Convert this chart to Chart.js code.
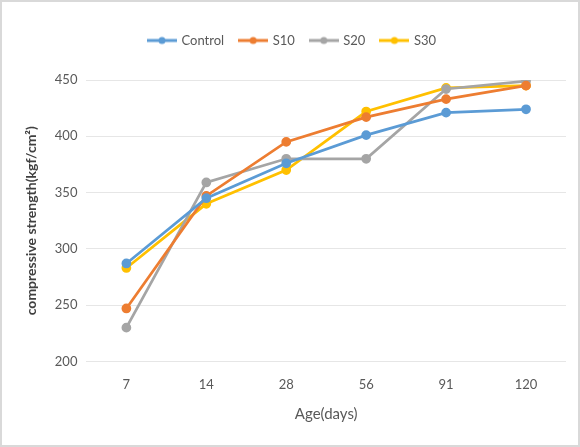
<!DOCTYPE html>
<html>
<head>
<meta charset="utf-8">
<script src="https://cdn.jsdelivr.net/npm/chart.js@4"></script>
<style>
  html, body { margin: 0; padding: 0; background: #fff; }
  #wrap { position: relative; width: 576px; height: 443px; border: 2px solid #d9d9d9; }
</style>
</head>
<body>
<div id="wrap"><canvas id="c" width="576" height="443"></canvas></div>
<script>
const ages = ['7', '14', '28', '56', '91', '120'];
const control = [287, 345, 376, 401, 421, 424];
const s10 = [247, 347, 395, 417, 433, 445];
const s20 = [230, 359, 380, 380, 442, 449];
const s30 = [283, 340, 370, 422, 443, 445];
const yTicks = [200, 250, 300, 350, 400, 450];

const FONT = 'Lato, "Open Sans", sans-serif';

// little line+dot swatch for the legend, like Excel
function swatch(color) {
  const cv = document.createElement('canvas');
  cv.width = 30; cv.height = 10;
  const g = cv.getContext('2d');
  g.strokeStyle = color; g.lineWidth = 3;
  g.beginPath(); g.moveTo(0, 5); g.lineTo(30, 5); g.stroke();
  g.fillStyle = color;
  g.beginPath(); g.arc(15, 5, 3.5, 0, Math.PI * 2); g.fill();
  return cv;
}

function series(label, data, color) {
  return {
    label, data,
    borderColor: color,
    backgroundColor: color,
    borderWidth: 2.75,
    pointRadius: 3.5,
    pointHoverRadius: 3.5,
    tension: 0
  };
}

new Chart(document.getElementById('c'), {
  type: 'line',
  data: {
    labels: ages,
    datasets: [
      series('Control', control, '#5B9BD5'),
      series('S10', s10, '#ED7D31'),
      series('S20', s20, '#A5A5A5'),
      series('S30', s30, '#FFC000')
    ]
  },
  options: {
    responsive: false,
    animation: false,
    layout: { padding: { left: 17, right: 12, top: 16, bottom: 18 } },
    plugins: {
      legend: {
        position: 'top',
        labels: {
          usePointStyle: true,
          pointStyleWidth: 26,
          font: { family: FONT, size: 13 },
          color: '#595959',
          boxWidth: 30,
          padding: 16,
          generateLabels(chart) {
            return chart.data.datasets.map((d, i) => ({
              text: d.label,
              pointStyle: swatch(d.borderColor),
              fillStyle: d.borderColor,
              strokeStyle: d.borderColor,
              lineWidth: 0,
              fontColor: '#595959',
              datasetIndex: i
            }));
          }
        }
      },
      tooltip: { enabled: false }
    },
    scales: {
      x: {
        offset: true,
        grid: { display: false, offset: true },
        border: { display: false },
        ticks: { font: { family: FONT, size: 13 }, color: '#595959', padding: 8 },
        title: { display: true, text: 'Age(days)', font: { family: FONT, size: 15 }, color: '#595959', padding: { top: 4 } }
      },
      y: {
        min: 200, max: 450,
        afterBuildTicks(axis) { axis.ticks = yTicks.map(v => ({ value: v })); },
        grid: { color: '#e6e6e6', lineWidth: 1, drawTicks: false },
        border: { display: false },
        ticks: { font: { family: FONT, size: 13 }, color: '#595959', padding: 9 },
        title: { display: true, text: 'compressive strength(kgf/cm²)', font: { family: FONT, size: 14, weight: 'bold' }, color: '#404040', padding: { bottom: 6 } }
      }
    }
  },
  plugins: [{
    id: 'legendGap',
    afterInit(chart) {
      const lg = chart.legend;
      const fit = lg.fit;
      lg.fit = function () { fit.call(this); this.height += 23; };
    }
  }]
});
</script>
</body>
</html>
